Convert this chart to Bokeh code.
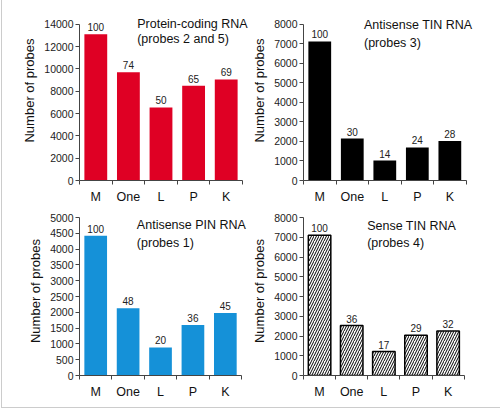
from bokeh.plotting import figure
from bokeh.models import (ColumnDataSource, Range1d, FixedTicker, LinearAxis,
                          LabelSet, Label, BasicTickFormatter)
from bokeh.core.properties import value
from bokeh.layouts import gridplot
from bokeh.embed import file_html
from bokeh.resources import INLINE

categories = ["M", "One", "L", "P", "K"]

protein_coding = [13100, 9700, 6550, 8500, 9050]
protein_pct = ["100", "74", "50", "65", "69"]

antisense_tin = [7120, 2150, 1020, 1690, 2020]
antisense_tin_pct = ["100", "30", "14", "24", "28"]

antisense_pin = [4420, 2130, 890, 1595, 1980]
antisense_pin_pct = ["100", "48", "20", "36", "45"]

sense_tin = [7100, 2530, 1210, 2040, 2250]
sense_tin_pct = ["100", "36", "17", "29", "32"]

FONT = "Liberation Sans"


def panel(values, pcts, ymax, ystep, title1, title2, tpos, size, border_left,
          border_bottom, axis_px, color, hatch=False):
    w, h = size
    ax_w, ax_h = axis_px
    frame_w = w - border_left
    frame_h = h - border_bottom
    n = len(categories)
    x_end = n * frame_w / ax_w
    y_end = ymax * frame_h / ax_h
    p = figure(width=w, height=h, output_backend="svg", toolbar_location=None,
               x_range=Range1d(0, x_end), y_range=Range1d(0, y_end),
               x_axis_type=None, y_axis_type=None,
               min_border_left=border_left, min_border_right=0,
               min_border_top=0, min_border_bottom=border_bottom)
    p.outline_line_color = None
    p.xgrid.visible = False
    p.ygrid.visible = False
    p.background_fill_color = "white"
    p.border_fill_color = "white"

    xs = [i + 0.5 for i in range(n)]
    src = ColumnDataSource(dict(x=xs, top=values, pct=pcts))
    if hatch:
        p.vbar(x="x", top="top", width=0.7, source=src, fill_color="white",
               line_color="black", line_width=1.5, hatch_pattern="/",
               hatch_color="black", hatch_scale=5, hatch_weight=1)
    else:
        p.vbar(x="x", top="top", width=0.7, source=src, fill_color=color,
               line_color=None)

    labels = LabelSet(x="x", y="top", text="pct", source=src,
                      text_align="center", text_baseline="bottom", y_offset=3,
                      text_font=value(FONT), text_font_size=value("10px"),
                      text_color="#222")
    p.add_layout(labels)

    xaxis = LinearAxis(ticker=FixedTicker(ticks=xs, minor_ticks=list(range(n + 1))),
                       major_label_overrides={x: c for x, c in zip(xs, categories)},
                       bounds=(0, n))
    xaxis.major_tick_line_color = None
    xaxis.minor_tick_line_color = "#444"
    xaxis.minor_tick_out = 4
    xaxis.minor_tick_in = 0
    xaxis.axis_line_color = "#444"
    xaxis.major_label_text_font = FONT
    xaxis.major_label_text_font_size = "12.5px"
    xaxis.major_label_text_color = "#111"
    xaxis.major_label_standoff = 3
    p.add_layout(xaxis, "below")

    yaxis = LinearAxis(ticker=FixedTicker(ticks=list(range(0, ymax + 1, ystep)), minor_ticks=[]),
                       formatter=BasicTickFormatter(use_scientific=False),
                       axis_label="Number of probes", bounds=(0, ymax))
    yaxis.axis_line_color = "#444"
    yaxis.major_tick_line_color = "#444"
    yaxis.major_tick_out = 4
    yaxis.major_tick_in = 0
    yaxis.major_label_text_font = FONT
    yaxis.major_label_text_font_size = "10.5px"
    yaxis.major_label_text_color = "#222"
    yaxis.major_label_standoff = 2
    yaxis.axis_label_text_font = FONT
    yaxis.axis_label_text_font_size = "13px"
    yaxis.axis_label_text_font_style = "normal"
    yaxis.axis_label_text_color = "#111"
    yaxis.axis_label_standoff = 4
    p.add_layout(yaxis, "left")

    tx, ty1, ty2 = tpos
    for txt, ty in ((title1, ty1), (title2, ty2)):
        p.add_layout(Label(x=tx, y=ty, text=txt, text_font=FONT,
                           text_font_size="12.5px", text_color="#111",
                           text_baseline="middle", text_align="left"))
    return p


p1 = panel(protein_coding, protein_pct, 14000, 2000,
           "Protein-coding RNA", "(probes 2 and 5)", (1.77, 14000, 12671),
           (247, 206), 77, 24, (163, 158), "#DF0024")
p2 = panel(antisense_tin, antisense_tin_pct, 8000, 1000,
           "Antisense TIN RNA", "(probes 3)", (1.86, 7949, 7053),
           (252, 206), 45, 24, (170, 158), "#000000")
p3 = panel(antisense_pin, antisense_pin_pct, 5000, 500,
           "Antisense PIN RNA", "(probes 1)", (1.77, 4769, 4187),
           (247, 201), 76, 32, (163, 158), "#1591D8")
p4 = panel(sense_tin, sense_tin_pct, 8000, 1000,
           "Sense TIN RNA", "(probes 4)", (1.98, 7559, 6699),
           (252, 201), 45, 32, (168, 158), "white", hatch=True)

grid = gridplot([[p1, p2], [p3, p4]], toolbar_location=None)
grid.styles = {"border-left": "1px solid #cccccc",
               "border-bottom": "1px solid #cccccc",
               "margin-left": "1px"}

open("out.html", "w").write(file_html(grid, INLINE))
